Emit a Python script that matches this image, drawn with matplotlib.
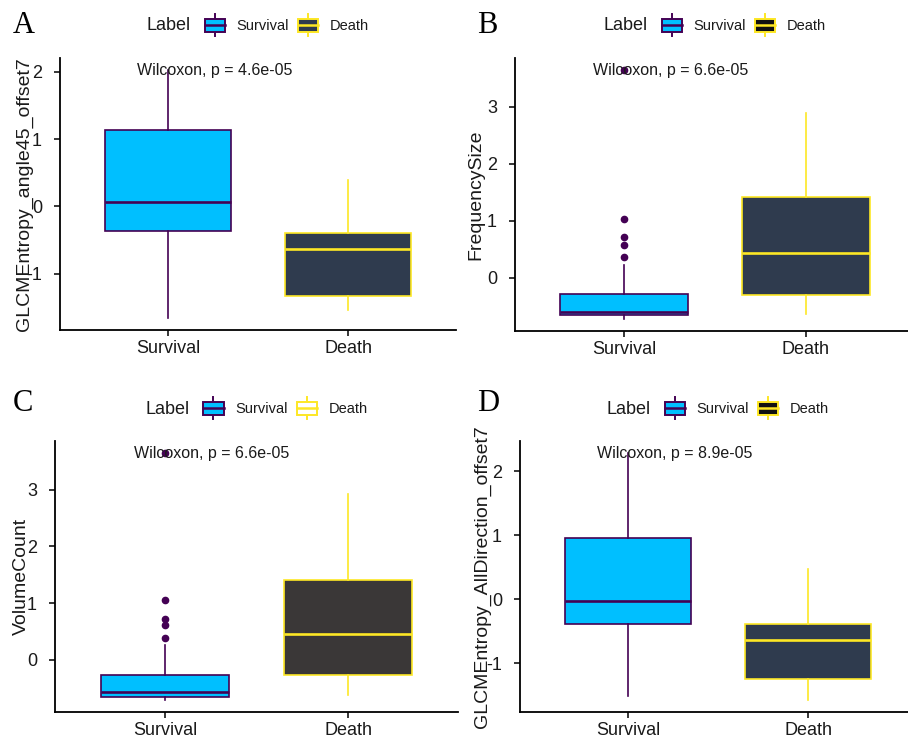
import matplotlib
matplotlib.use("Agg")
import matplotlib.pyplot as plt
from matplotlib.patches import Patch, Rectangle
from matplotlib.lines import Line2D
from matplotlib.legend_handler import HandlerBase
from matplotlib.offsetbox import HPacker

plt.rcParams['font.family'] = ['Liberation Sans', 'DejaVu Sans']
plt.rcParams['axes.unicode_minus'] = False

# box stats: lower whisker, Q1, median, Q3, upper whisker
groups = ['Survival', 'Death']

glcm45_survival = [-1.65, -0.36, 0.07, 1.13, 2.02]
glcm45_death = [-1.53, -1.33, -0.63, -0.40, 0.40]

freq_survival = [-0.72, -0.66, -0.60, -0.29, 0.22]
freq_survival_out = [0.37, 0.58, 0.72, 1.03, 3.64]
freq_death = [-0.64, -0.31, 0.43, 1.41, 2.90]

vol_survival = [-0.70, -0.66, -0.57, -0.27, 0.26]
vol_survival_out = [0.39, 0.61, 0.73, 1.05, 3.64]
vol_death = [-0.61, -0.27, 0.46, 1.41, 2.92]

glcmall_survival = [-1.51, -0.38, -0.03, 0.95, 2.28]
glcmall_death = [-1.57, -1.24, -0.64, -0.38, 0.47]

p_values = ['4.6e-05', '6.6e-05', '6.6e-05', '8.9e-05']
y_titles = ['GLCMEntropy_angle45_offset7', 'FrequencySize', 'VolumeCount',
            'GLCMEntropy_AllDirection_offset7']
letters = ['A', 'B', 'C', 'D']

SURV_FILL = '#00BFFF'
SURV_EDGE = '#440154'
DEATH_EDGE = '#FDE725'
INK = '#1a1a1a'

W, H = 908, 736


class BoxKey(HandlerBase):
    # little boxplot glyph like the ggplot legend keys
    def create_artists(self, legend, orig_handle, xdescent, ydescent,
                       width, height, fontsize, trans):
        fc = orig_handle.get_facecolor()
        ec = orig_handle.get_edgecolor()
        x0, y0 = -xdescent, -ydescent
        cx = x0 + width / 2
        lo = Line2D([cx, cx], [y0 - 3, y0], color=ec, lw=1.4, transform=trans)
        hi = Line2D([cx, cx], [y0 + height, y0 + height + 3], color=ec, lw=1.4, transform=trans)
        box = Rectangle((x0, y0), width, height, facecolor=fc,
                        edgecolor=ec, lw=1.4, transform=trans)
        med = Line2D([x0, x0 + width], [y0 + height / 2] * 2, color=ec, lw=1.8, transform=trans)
        return [lo, hi, box, med]


def stats(vals, fliers=()):
    return dict(whislo=vals[0], q1=vals[1], med=vals[2], q3=vals[3],
                whishi=vals[4], fliers=list(fliers))


def panel(rect, surv, death, surv_out, death_fill, key_fill, pval, ytitle,
          letter, letter_xy, label_dx):
    l, r, t, b = rect
    ax = fig.add_axes([l / W, 1 - b / H, (r - l) / W, (b - t) / H])
    bxs = [stats(surv, surv_out), stats(death)]
    fills = [SURV_FILL, death_fill]
    edges = [SURV_EDGE, DEATH_EDGE]
    for i in range(2):
        ax.bxp([bxs[i]], positions=[i + 1], widths=0.7, patch_artist=True,
               showcaps=False,
               boxprops=dict(facecolor=fills[i], edgecolor=edges[i], lw=1.2),
               whiskerprops=dict(color=edges[i], lw=1.2),
               medianprops=dict(color=edges[i], lw=1.9),
               flierprops=dict(marker='o', markerfacecolor=edges[i],
                               markeredgecolor=edges[i], markersize=4.5))
    lo = min([surv[0], death[0]] + list(surv_out))
    hi = max([surv[4], death[4]] + list(surv_out))
    pad = (hi - lo) * 0.05
    ax.set_ylim(lo - pad, hi + pad)
    ax.set_xlim(0.4, 2.6)
    ax.set_xticks([1, 2])
    ax.set_xticklabels(groups)
    yt = [v for v in range(-3, 5) if lo - pad <= v <= hi + pad]
    ax.set_yticks(yt)
    ax.set_yticklabels([str(v) for v in yt])
    ax.tick_params(labelsize=13, length=4, width=1.1, color='black', labelcolor=INK)
    ax.tick_params(axis='y', pad=9)
    ax.tick_params(axis='x', pad=3)
    for s in ['top', 'right']:
        ax.spines[s].set_visible(False)
    for s in ['left', 'bottom']:
        ax.spines[s].set_linewidth(1.3)
    ax.set_ylabel(ytitle, fontsize=14, color=INK)
    ax.yaxis.set_label_coords(label_dx / (r - l), 0.5)
    ax.text(0.83, hi, f'Wilcoxon, p = {pval}', fontsize=11.5, ha='left', va='center',
            color=INK)

    handles = [Patch(facecolor=SURV_FILL, edgecolor=SURV_EDGE),
               Patch(facecolor=key_fill, edgecolor=DEATH_EDGE)]
    leg = ax.legend(handles, groups, title='Label', ncol=2, loc='center',
                    bbox_to_anchor=(0.5, 1 + 32 / (b - t)), frameon=False,
                    fontsize=10.5, title_fontsize=13, handlelength=1.4,
                    handleheight=1.05, handletextpad=0.8, columnspacing=0.6,
                    handler_map={Patch: BoxKey()})
    for txt in leg.get_texts():
        txt.set_color(INK)
    leg.get_title().set_color(INK)
    # put the legend title to the left of the keys, ggplot style
    hp = HPacker(pad=0, sep=10, align='center',
                 children=[leg._legend_title_box, leg._legend_handle_box])
    leg._legend_box._children = [hp]
    hp.set_figure(fig)

    fig.text(letter_xy[0] / W, 1 - letter_xy[1] / H, letter, family='Liberation Serif',
             fontsize=22, ha='left', va='baseline')
    return ax


fig = plt.figure(figsize=(W / 100, H / 100), dpi=100)

panel((60, 456, 58, 330), glcm45_survival, glcm45_death, [], '#2F3B4E', '#2F3B4E',
      p_values[0], y_titles[0], letters[0], (13, 33), -27)
panel((515, 915, 58, 331), freq_survival, freq_death, freq_survival_out, '#2F3B4E', '#111111',
      p_values[1], y_titles[1], letters[1], (477, 33), -31)
panel((55, 458, 441, 712), vol_survival, vol_death, vol_survival_out, '#3A3737', 'white',
      p_values[2], y_titles[2], letters[2], (13, 411), -25)
panel((520, 916, 441, 712), glcmall_survival, glcmall_death, [], '#2F3B4E', '#111111',
      p_values[3], y_titles[3], letters[3], (477, 411), -29)

fig.savefig('out.png', dpi=100)
